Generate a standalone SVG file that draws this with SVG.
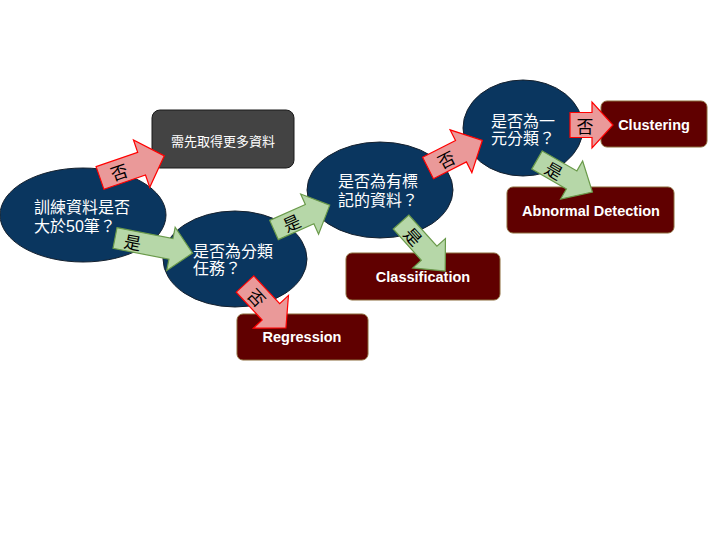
<svg xmlns="http://www.w3.org/2000/svg" width="720" height="540" viewBox="0 0 720 540">
<defs>
<style>
.q{fill:#0a365f;stroke:#14202e;stroke-width:1}
.qt{fill:#ffffff;font-family:"Liberation Sans","Noto Sans CJK TC",sans-serif;font-size:16px}
.box{fill:#600000;stroke:#8a6a3a;stroke-width:1}
.bt{fill:#ffffff;font-family:"Liberation Sans","Noto Sans CJK TC",sans-serif;font-size:14.5px;font-weight:bold;text-anchor:middle;dominant-baseline:central}
.gray{fill:#434343;stroke:#1a1a1a;stroke-width:1}
.gt{fill:#ffffff;font-family:"Liberation Sans","Noto Sans CJK TC",sans-serif;font-size:13px;text-anchor:middle;dominant-baseline:central}
.no{fill:#ea9999;stroke:#ff0000;stroke-width:1.2}
.yes{fill:#b6d7a8;stroke:#6a9a4a;stroke-width:1.2}
.at{fill:#000000;font-family:"Noto Sans CJK TC",sans-serif;font-size:17px;text-anchor:middle;dominant-baseline:central}
</style>
</defs>
<rect width="720" height="540" fill="#ffffff"/>
<g id="q1"><ellipse class="q" cx="83" cy="215" rx="83" ry="47"/>
<text class="qt" x="34" y="213">訓練資料是否</text><text class="qt" x="34" y="232">大於50筆？</text></g>
<g id="q2"><ellipse class="q" cx="235" cy="259" rx="72" ry="48"/>
<text class="qt" x="193" y="257">是否為分類</text><text class="qt" x="193" y="274">任務？</text></g>
<g id="q3"><ellipse class="q" cx="380" cy="190" rx="73" ry="48"/>
<text class="qt" x="338" y="187">是否為有標</text><text class="qt" x="338" y="206">記的資料？</text></g>
<g id="q4"><ellipse class="q" cx="523" cy="128" rx="60" ry="48"/>
<text class="qt" x="491" y="127">是否為一</text><text class="qt" x="491" y="144">元分類？</text></g>
<g id="more"><rect class="gray" x="152" y="110" width="142" height="58" rx="8"/><text class="gt" x="223" y="141">需先取得更多資料</text></g>
<g id="regression"><rect class="box" x="237" y="314" width="131" height="46" rx="6"/><text class="bt" x="302" y="337">Regression</text></g>
<g id="classification"><rect class="box" x="346" y="253" width="154" height="47" rx="6"/><text class="bt" x="423" y="277">Classification</text></g>
<g id="clustering"><rect class="box" x="601" y="101" width="106" height="46" rx="6"/><text class="bt" x="654" y="125">Clustering</text></g>
<g id="abnormal"><rect class="box" x="507" y="187" width="167" height="46" rx="6"/><text class="bt" x="591" y="211">Abnormal Detection</text></g>
<g id="connectors">
<g transform="translate(100,178) rotate(-19)"><polygon class="no" points="0,-12 44,-12 44,-25 68,0 44,25 44,12 0,12"/><text class="at" x="20" y="0">否</text></g>
<g transform="translate(115,238) rotate(11)"><polygon class="yes" points="0,-10.5 57,-10.5 57,-22 79,0 57,22 57,10.5 0,10.5"/><text class="at" x="18" y="0">是</text></g>
<g transform="translate(245,284) rotate(47)"><polygon class="no" points="0,-12 38,-12 38,-24 60,0 38,24 38,12 0,12"/><text class="at" x="18" y="0">否</text></g>
<g transform="translate(274,230) rotate(-24)"><polygon class="yes" points="0,-10.5 39,-10.5 39,-22 61,0 39,22 39,10.5 0,10.5"/><text class="at" x="19" y="0">是</text></g>
<g transform="translate(401,222) rotate(48)"><polygon class="yes" points="0,-10.5 42,-10.5 42,-22 66,0 42,22 42,10.5 0,10.5"/><text class="at" x="19" y="0">是</text></g>
<g transform="translate(428,168) rotate(-27)"><polygon class="no" points="0,-12 37,-12 37,-24 61,0 37,24 37,12 0,12"/><text class="at" x="20" y="0">否</text></g>
<g transform="translate(570,125)"><polygon class="no" points="0,-12.5 22,-12.5 22,-23 43,0 22,23 22,12.5 0,12.5"/><text class="at" x="15" y="0">否</text></g>
<g transform="translate(537,160) rotate(30)"><polygon class="yes" points="0,-10.5 40,-10.5 40,-22 64,0 40,22 40,10.5 0,10.5"/><text class="at" x="20" y="0">是</text></g>
</g>
</svg>
